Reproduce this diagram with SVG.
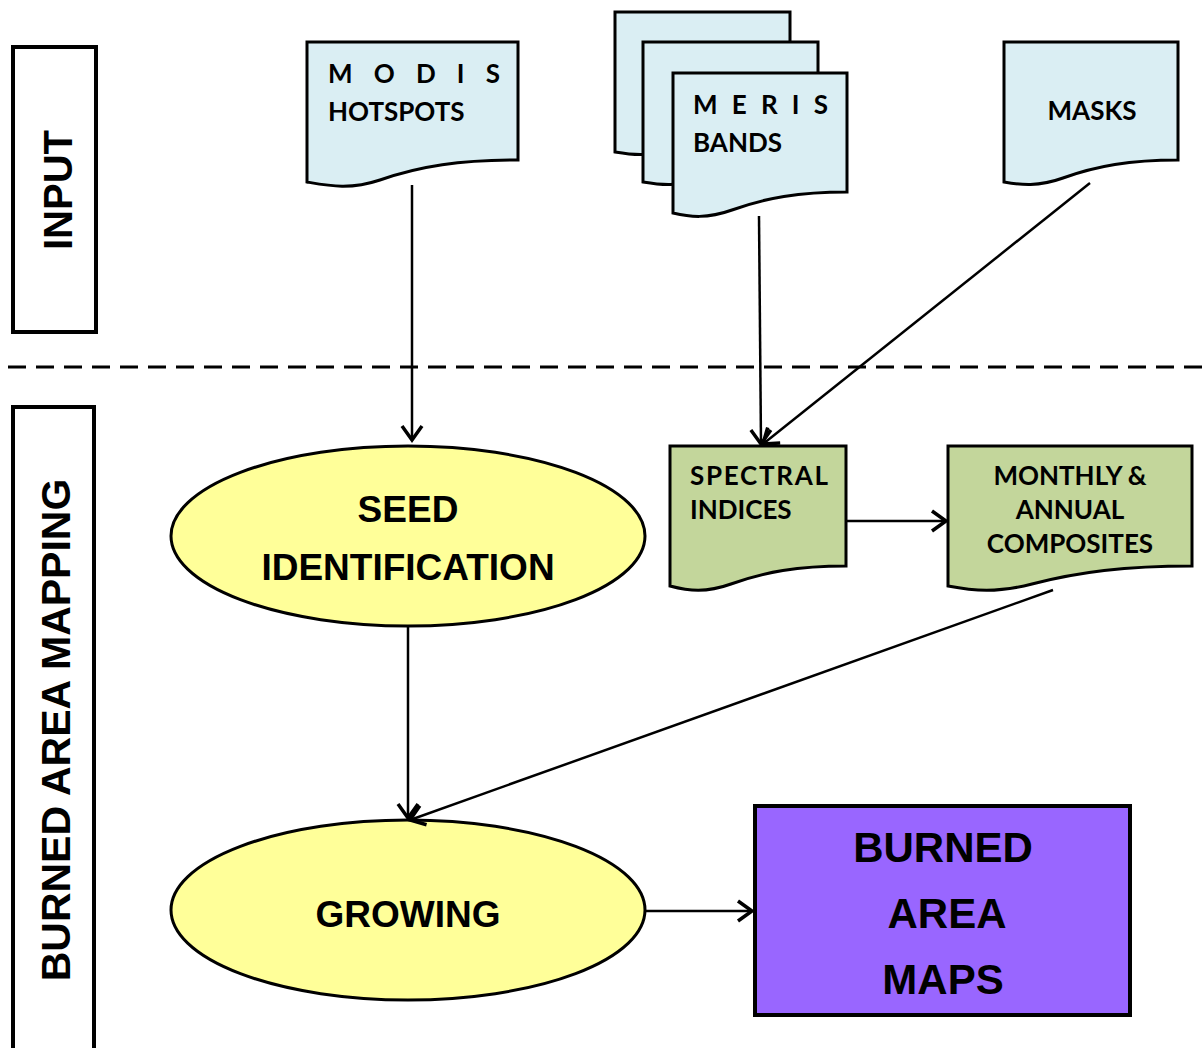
<svg xmlns="http://www.w3.org/2000/svg" width="1203" height="1048" viewBox="0 0 1203 1048">
<style>
.lane{fill:#fff;stroke:#000;stroke-width:4}
.doc{stroke:#000;stroke-width:3;stroke-linejoin:miter}
.blue{fill:#DAEEF3}
.green{fill:#C3D69B}
.dt{font-family:Lato,"Open Sans","Liberation Sans",sans-serif;font-weight:bold;font-size:26px;fill:#000}
.big{font-family:"Liberation Sans",Arial,sans-serif;font-weight:bold;fill:#000}
.conn{fill:none;stroke:#000;stroke-width:2.5}
</style>
<defs>
<marker id="arr" markerUnits="userSpaceOnUse" markerWidth="24" markerHeight="24" viewBox="0 0 24 24" refX="20" refY="12" orient="auto">
<path d="M6,2 L20,12 L6,22" fill="none" stroke="#000" stroke-width="3.5"/>
</marker>
</defs>

<g id="lane-input">
<rect class="lane" x="13" y="47" width="83" height="285"/>
<text class="big" font-size="40" transform="translate(72,190) rotate(-90)" text-anchor="middle">INPUT</text>
</g>
<g id="lane-mapping">
<rect class="lane" x="13" y="407" width="81" height="660"/>
<text class="big" font-size="41" transform="translate(70,730) rotate(-90)" text-anchor="middle">BURNED AREA MAPPING</text>
</g>

<line x1="8" y1="367" x2="1203" y2="367" stroke="#000" stroke-width="3" stroke-dasharray="18,10"/>

<g id="modis">
<path class="doc blue" d="M307,42 H518 V160 C460,160 420,166 380,180 C350,190 330,186 307,182 Z"/>
<text class="dt" x="328" y="83" textLength="172" lengthAdjust="spacing">M O D I S</text>
<text class="dt" x="328" y="121">HOTSPOTS</text>
</g>

<g id="meris">
<path class="doc blue" d="M615,12 H790 V130 C742,130 708,136 675,148 C650,157 633,155 615,152 Z"/>
<path class="doc blue" d="M643,42 H818 V160 C770,160 736,166 703,178 C678,187 661,185 643,182 Z"/>
<path class="doc blue" d="M673,73 H847 V192 C799,192 765,198 732,210 C707,219 690,217 673,213 Z"/>
<text class="dt" x="693" y="114" textLength="135" lengthAdjust="spacing">M E R I S</text>
<text class="dt" x="693" y="152">BANDS</text>
</g>

<g id="masks">
<path class="doc blue" d="M1004,42 H1178 V160 C1130,160 1096,166 1063,178 C1038,187 1021,185 1004,182 Z"/>
<text class="dt" x="1092" y="120" text-anchor="middle">MASKS</text>
</g>

<g id="spectral">
<path class="doc green" d="M670,446 H846 V566 C798,566 764,572 731,584 C706,593 689,591 670,586 Z"/>
<text class="dt" x="690" y="485" textLength="138" lengthAdjust="spacing">SPECTRAL</text>
<text class="dt" x="690" y="519">INDICES</text>
</g>

<g id="composites">
<path class="doc green" d="M948,446 H1192 V566 C1125,566 1078,572 1032,584 C997,593 974,591 948,586 Z"/>
<text class="dt" x="1070" y="485" text-anchor="middle">MONTHLY &amp;</text>
<text class="dt" x="1070" y="519" text-anchor="middle">ANNUAL</text>
<text class="dt" x="1070" y="553" text-anchor="middle">COMPOSITES</text>
</g>

<g id="seed">
<ellipse cx="408" cy="536" rx="237" ry="90" fill="#FFFF99" stroke="#000" stroke-width="3"/>
<text class="big" font-size="37" x="408" y="522" text-anchor="middle">SEED</text>
<text class="big" font-size="37" x="408" y="580" text-anchor="middle">IDENTIFICATION</text>
</g>

<g id="growing">
<ellipse cx="408" cy="910" rx="237" ry="90" fill="#FFFF99" stroke="#000" stroke-width="3"/>
<text class="big" font-size="37" x="408" y="927" text-anchor="middle">GROWING</text>
</g>

<g id="maps">
<rect x="755" y="806" width="375" height="209" fill="#9966FF" stroke="#000" stroke-width="4"/>
<text class="big" font-size="42" x="943" y="862" text-anchor="middle">BURNED</text>
<text class="big" font-size="42" x="947" y="928" text-anchor="middle">AREA</text>
<text class="big" font-size="42" x="943" y="994" text-anchor="middle">MAPS</text>
</g>

<g id="connectors">
<line class="conn" x1="412" y1="185" x2="412" y2="440" marker-end="url(#arr)"/>
<line class="conn" x1="759" y1="216" x2="761" y2="444" marker-end="url(#arr)"/>
<line class="conn" x1="1090" y1="183" x2="763" y2="444" marker-end="url(#arr)"/>
<line class="conn" x1="846" y1="521" x2="946" y2="521" marker-end="url(#arr)"/>
<line class="conn" x1="408" y1="627" x2="408" y2="818" marker-end="url(#arr)"/>
<line class="conn" x1="1053" y1="590" x2="410" y2="820" marker-end="url(#arr)"/>
<line class="conn" x1="645" y1="911" x2="752" y2="911" marker-end="url(#arr)"/>
</g>
</svg>
